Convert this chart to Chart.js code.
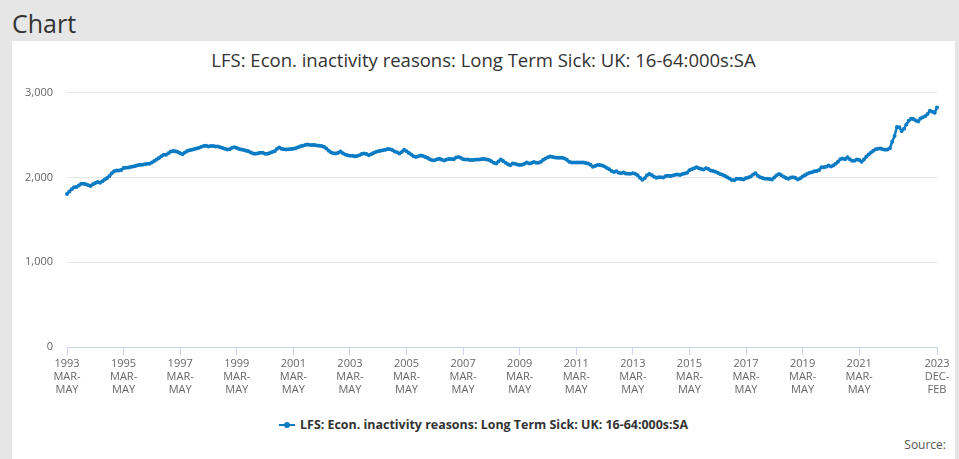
<!DOCTYPE html>
<html lang="en">
<head>
<meta charset="UTF-8">
<title>Chart</title>
<script src="https://cdn.jsdelivr.net/npm/chart.js"></script>
<style>
  html, body { margin: 0; padding: 0; }
  body { width: 959px; height: 459px; background: #e6e6e6; font-family: "Open Sans", sans-serif; position: relative; overflow: hidden; }
  #head { position: absolute; left: 12px; top: 6px; font-size: 25px; color: #333; }
  #panel { position: absolute; left: 12px; top: 41px; width: 943px; height: 418px; background: #fff; }
  #title { position: absolute; left: 0; width: 943px; top: 6px; text-align: center; font-size: 18.5px; color: #333; }
  #wrap { position: absolute; left: 0; top: 31px; width: 943px; height: 333px; }
  #legend { position: absolute; left: 0; width: 943px; top: 375px; text-align: center; font-size: 12.45px; font-weight: bold; color: #333; }
  #legend .sym { display: inline-block; position: relative; width: 16px; height: 10px; margin-right: 5px; vertical-align: -1px; }
  #legend .sym:before { content: ""; position: absolute; left: 0; right: 0; top: 4px; height: 2px; background: #0b7cc4; }
  #legend .sym:after { content: ""; position: absolute; left: 5px; top: 2px; width: 6px; height: 6px; border-radius: 3px; background: #0b7cc4; }
  #source { position: absolute; right: 9px; top: 395px; font-size: 12px; color: #555; }
</style>
</head>
<body>
<div id="head">Chart</div>
<div id="panel">
  <div id="title">LFS: Econ. inactivity reasons: Long Term Sick: UK: 16-64:000s:SA</div>
  <div id="wrap"><canvas id="lfsChart" width="943" height="333"></canvas></div>
  <div id="legend"><span class="sym"></span>LFS: Econ. inactivity reasons: Long Term Sick: UK: 16-64:000s:SA</div>
  <div id="source">Source:</div>
</div>

<script>
// monthly rolling quarters, Mar-May 1993 .. Dec-Feb 2023 (thousands)
const longTermSick = [
  1805, 1835, 1860, 1884, 1886, 1905, 1925, 1925, 1918, 1908, 1900, 1920,
  1935, 1945, 1938, 1955, 1974, 1993, 2016, 2050, 2073, 2081, 2080, 2088,
  2110, 2113, 2118, 2123, 2128, 2135, 2143, 2149, 2149, 2154, 2161, 2161,
  2175, 2193, 2210, 2228, 2248, 2267, 2267, 2285, 2305, 2312, 2308, 2300,
  2286, 2273, 2294, 2310, 2320, 2325, 2334, 2342, 2351, 2362, 2371, 2373,
  2365, 2370, 2370, 2365, 2365, 2357, 2347, 2338, 2329, 2333, 2349, 2355,
  2348, 2336, 2330, 2323, 2315, 2309, 2293, 2283, 2279, 2285, 2290, 2291,
  2279, 2278, 2287, 2299, 2307, 2335, 2352, 2338, 2332, 2330, 2332, 2334,
  2337, 2345, 2355, 2366, 2374, 2381, 2387, 2381, 2382, 2382, 2376, 2374,
  2369, 2360, 2341, 2315, 2295, 2286, 2281, 2290, 2306, 2286, 2271, 2262,
  2256, 2254, 2248, 2252, 2261, 2277, 2283, 2275, 2262, 2274, 2288, 2300,
  2309, 2315, 2320, 2326, 2334, 2332, 2322, 2304, 2296, 2282, 2300, 2325,
  2308, 2289, 2269, 2250, 2242, 2248, 2258, 2252, 2242, 2230, 2212, 2201,
  2203, 2213, 2219, 2208, 2200, 2210, 2217, 2217, 2214, 2236, 2240, 2231,
  2214, 2212, 2210, 2204, 2204, 2207, 2212, 2212, 2217, 2218, 2212, 2204,
  2190, 2172, 2163, 2188, 2210, 2192, 2172, 2154, 2143, 2163, 2162, 2152,
  2146, 2150, 2160, 2176, 2165, 2171, 2182, 2172, 2172, 2184, 2207, 2223,
  2237, 2246, 2240, 2235, 2231, 2231, 2231, 2223, 2207, 2184, 2176, 2176,
  2176, 2176, 2176, 2176, 2171, 2163, 2150, 2127, 2134, 2145, 2145, 2139,
  2128, 2112, 2095, 2075, 2063, 2073, 2056, 2048, 2058, 2047, 2043, 2044,
  2050, 2042, 2025, 1997, 1973, 1989, 2026, 2040, 2027, 2007, 1997, 2001,
  2001, 1998, 2017, 2020, 2017, 2023, 2030, 2033, 2027, 2039, 2046, 2056,
  2084, 2097, 2107, 2121, 2109, 2098, 2092, 2109, 2100, 2081, 2075, 2068,
  2056, 2040, 2032, 2018, 2001, 1987, 1969, 1966, 1983, 1984, 1980, 1976,
  1992, 2000, 2011, 2034, 2048, 2020, 2003, 1993, 1984, 1984, 1980, 1976,
  1998, 2025, 2039, 2025, 2008, 1992, 1985, 1999, 2001, 1992, 1975, 1991,
  2010, 2024, 2044, 2054, 2061, 2073, 2075, 2088, 2120, 2120, 2125, 2139,
  2128, 2140, 2160, 2186, 2213, 2222, 2213, 2237, 2213, 2196, 2197, 2211,
  2205, 2185, 2210, 2244, 2271, 2293, 2315, 2331, 2337, 2342, 2332, 2326,
  2330, 2345, 2420, 2489, 2595, 2590, 2548, 2575, 2625, 2667, 2691, 2690,
  2670, 2660, 2694, 2708, 2722, 2748, 2787, 2774, 2762, 2825
];

const startYear = 1993;
// rolling quarter named by its first month (Jan = 0); the year is that of the first month
const quarters = ['JAN-MAR', 'FEB-APR', 'MAR-MAY', 'APR-JUN', 'MAY-JUL', 'JUN-AUG',
                  'JUL-SEP', 'AUG-OCT', 'SEP-NOV', 'OCT-DEC', 'NOV-JAN', 'DEC-FEB'];
const yTicks = [0, 1000, 2000, 3000];

// first period is Mar-May 1993 (first month index 2)
const periods = longTermSick.map((_, i) => {
  const m = i + 2;
  return { year: startYear + Math.floor(m / 12), q: quarters[m % 12] };
});
const labels = periods.map(p => p.year + ' ' + p.q);

// which ticks get printed: every 2 years from the start, and the last period
function showTick(i) {
  if (i === longTermSick.length - 1) return true;
  return i % 24 === 0 && i + 24 <= longTermSick.length;
}

const blue = '#0b7cc4';
const ctx = document.getElementById('lfsChart').getContext('2d');
new Chart(ctx, {
  type: 'line',
  data: {
    labels: labels,
    datasets: [{
      label: 'LFS: Econ. inactivity reasons: Long Term Sick: UK: 16-64:000s:SA',
      data: longTermSick,
      borderColor: blue,
      backgroundColor: blue,
      borderWidth: 2.5,
      pointRadius: 2,
      pointBorderWidth: 0,
      tension: 0,
      fill: false
    }]
  },
  options: {
    responsive: false,
    animation: false,
    devicePixelRatio: 1,
    layout: { padding: { top: 6, right: 18, left: 0, bottom: 0 } },
    plugins: { legend: { display: false }, tooltip: { enabled: false } },
    scales: {
      x: {
        type: 'category',
        offset: false,
        grid: { drawOnChartArea: false, drawTicks: true, tickLength: 8, color: '#ccd6eb' },
        border: { color: '#ccd6eb' },
        ticks: {
          autoSkip: false,
          maxRotation: 0,
          padding: 2,
          color: '#666',
          font: { family: 'Open Sans', size: 11 },
          callback: function (val, i) {
            if (!showTick(i)) return null;
            const p = periods[i];
            const parts = p.q.split('-');
            return [String(p.year), parts[0] + '-', parts[1]];
          }
        },
        afterFit: function (scale) { scale.height = 58; }
      },
      y: {
        min: 0,
        max: 3000,
        afterBuildTicks: function (scale) { scale.ticks = yTicks.map(v => ({ value: v })); },
        grid: { color: '#e6e6e6', drawTicks: false },
        border: { display: false },
        ticks: {
          padding: 14,
          color: '#666',
          font: { family: 'Open Sans', size: 11 }
        },
        afterFit: function (scale) { scale.width = 55; }
      }
    }
  }
});
</script>
</body>
</html>
